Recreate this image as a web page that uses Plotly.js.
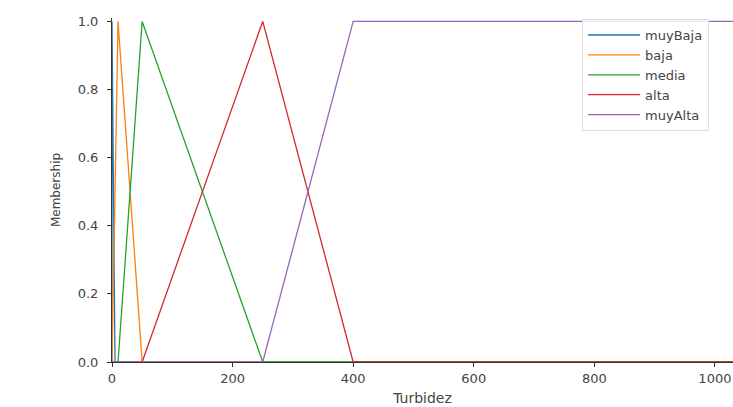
<!DOCTYPE html>
<html><head><meta charset="utf-8">
<script src="https://cdn.plot.ly/plotly-3.0.1.min.js"></script>
<style>html,body{margin:0;padding:0;background:#fff}#c{width:733px;height:407px}</style>
</head><body><div id="c"></div>
<script>
const names = ["muyBaja", "baja", "media", "alta", "muyAlta"];
const xs = [
  [0, 0, 5, 1100],
  [0, 10, 50, 1100],
  [0, 10, 50, 250, 1100],
  [0, 50, 250, 400, 1100],
  [0, 250, 400, 1100]
];
const ys = [
  [0, 1, 0, 0],
  [0, 1, 0, 0],
  [0, 0, 1, 0, 0],
  [0, 0, 1, 0, 0],
  [0, 0, 1, 1]
];
const colors = ["#1f77b4", "#ff7f0e", "#2ca02c", "#d62728", "#9467bd"];
const xTicks = [0, 200, 400, 600, 800, 1000];
const yTicks = [0, 0.2, 0.4, 0.6, 0.8, 1.0];

const traces = names.map((n, i) => ({
  x: xs[i], y: ys[i], name: n, mode: "lines", type: "scatter",
  line: {color: colors[i], width: 1.3}
}));
const tfont = {family: "DejaVu Sans", size: 13, color: "#444"};
Plotly.newPlot("c", traces, {
  width: 733, height: 407,
  margin: {l: 112, r: 0, t: 18, b: 45},
  paper_bgcolor: "#fff", plot_bgcolor: "#fff",
  font: tfont,
  showlegend: true,
  legend: {x: 0.757, y: 0.997, xanchor: "left", yanchor: "top",
    bgcolor: "rgba(255,255,255,0.8)", bordercolor: "#ddd", borderwidth: 1,
    itemwidth: 52,
    font: {family: "DejaVu Sans", size: 13, color: "#444"}, tracegroupgap: 0},
  xaxis: {range: [0, 1030], tickvals: xTicks, ticktext: xTicks.map(String),
    showgrid: false, zeroline: false, showline: true, linecolor: "#333", linewidth: 1,
    ticks: "outside", ticklen: 4, tickcolor: "#333", tickfont: tfont,
    title: {text: "Turbidez", font: {family: "DejaVu Sans", size: 14, color: "#444"}, standoff: 8}},
  yaxis: {range: [0, 1.01], tickvals: yTicks, ticktext: yTicks.map(v => v.toFixed(1)),
    showgrid: false, zeroline: false, showline: true, linecolor: "#333", linewidth: 1,
    ticks: "outside", ticklen: 4, tickcolor: "#333", tickfont: tfont, ticklabelstandoff: 6,
    title: {text: "Membership", font: {family: "DejaVu Sans", size: 12, color: "#444"}, standoff: 14}}
}, {displayModeBar: false, staticPlot: true});
</script></body></html>
